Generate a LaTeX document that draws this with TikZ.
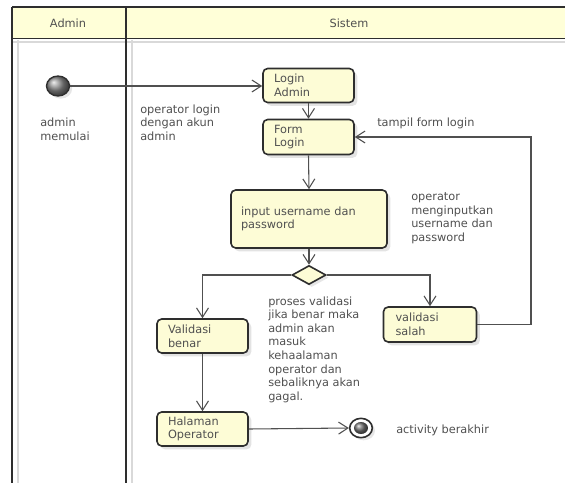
\documentclass[tikz,border=0pt]{standalone}
\usepackage{fontspec}
\setmainfont{DejaVu Sans}
\usetikzlibrary{shapes.geometric,arrows.meta,shadows,calc}
\definecolor{boxfill}{HTML}{FDFCD6}
\definecolor{hdrfill}{HTML}{FFFFD8}
\definecolor{txt}{HTML}{505050}
\definecolor{ln}{HTML}{505050}
\definecolor{frm}{HTML}{2E2E2E}
\tikzset{
  lbl/.style={font=\fontsize{8.5pt}{10.2pt}\selectfont, text=txt, align=left, inner sep=0pt, anchor=west},
  actbox/.style={draw=frm, line width=1.2pt, rounded corners=3.5pt, fill=boxfill,
     drop shadow={shadow xshift=2.5pt, shadow yshift=-2.5pt, opacity=0.22},
     font=\fontsize{8.5pt}{10.2pt}\selectfont, text=txt, align=left,
     inner ysep=0pt},
  conn/.style={draw=ln, line width=0.8pt, -{Straight Barb[length=7pt,width=9pt,line width=0.8pt]}},
  frameline/.style={draw=frm, line width=1.4pt},
  shadowline/.style={draw=black!15, line width=0.8pt},
}
\begin{document}
\begin{tikzpicture}[x=0.75pt,y=-0.75pt]
\useasboundingbox (0,0) rectangle (565,483);
% swimlane frame
\fill[hdrfill] (12,7) rectangle (565,38);
\draw[shadowline] (18,40) -- (18,483);
\draw[shadowline] (132,40) -- (132,483);
\draw[shadowline] (12,42) -- (565,42);
\draw[draw=frm, line width=0.8pt] (12,7) -- (565,7);
\draw[frameline] (12,38.5) -- (565,38.5);
\draw[frameline] (12,7) -- (12,483);
\draw[frameline] (126,7) -- (126,483);
\node[font=\fontsize{8.5pt}{10pt}\selectfont, text=txt] (hadmin) at (68,23) {Admin};
\node[font=\fontsize{8.5pt}{10pt}\selectfont, text=txt] (hsistem) at (349,23) {Sistem};

% nodes
\node[ellipse, draw=frm, line width=1pt, minimum width=17.25pt, minimum height=15pt, inner sep=0pt,
      shading=ball, ball color=black!45,
      drop shadow={shadow xshift=2pt, shadow yshift=-2pt, opacity=0.2}] (start) at (58,86) {};
\node[actbox, text width=51.75pt, inner xsep=8.25pt, minimum height=25.5pt] (loginadmin) at (308.5,85.5) {Login\\Admin};
\node[actbox, text width=51.75pt, inner xsep=8.25pt, minimum height=26.25pt] (formlogin) at (308.5,137) {Form\\Login};
\node[actbox, text width=102pt, inner xsep=7.5pt, minimum height=43.5pt] (input) at (309,219) {input username dan\\password};
\node[diamond, draw=frm, line width=1.2pt, fill=boxfill, aspect=1.8, minimum width=25.5pt, minimum height=14.25pt, inner sep=0pt,
      drop shadow={shadow xshift=2pt, shadow yshift=-2pt, opacity=0.2}] (dec) at (309,275) {};
\node[actbox, text width=51.75pt, inner xsep=8.25pt, minimum height=25.5pt] (benar) at (202.5,336) {Validasi\\benar};
\node[actbox, text width=51.75pt, inner xsep=9pt, minimum height=26.25pt] (salah) at (430,324.5) {validasi\\salah};
\node[actbox, text width=51.75pt, inner xsep=8.25pt, minimum height=25.5pt] (halaman) at (202.5,429) {Halaman\\Operator};
\node[ellipse, draw=frm, line width=1.2pt, fill=white, minimum width=17pt, minimum height=14.5pt, inner sep=0pt,
      drop shadow={shadow xshift=2pt, shadow yshift=-2pt, opacity=0.2}] (end) at (361,428) {};
\node[ellipse, minimum width=10.5pt, minimum height=9pt, inner sep=0pt, shading=ball, ball color=black!55] (endin) at (end.center) {};
\coordinate (fbx) at (531,137);

% connectors
\draw[conn] (start.east) -- (start.east -| loginadmin.west);
\draw[conn] (loginadmin.south) -- (formlogin.north);
\draw[conn] (formlogin.south) -- (input.north);
\draw[conn] (input.south) -- (dec.north);
\draw[conn] (dec.west) -| (benar.north);
\draw[conn] (dec.east) -| (salah.north);
\draw[conn] (salah.east) -- (salah.east -| fbx) -- (fbx) -- (formlogin.east);
\draw[conn] (benar.south) -- (halaman.north);
\draw[conn] (halaman.east) -- (end.west);

% labels
\node[lbl] (l1) at (40,129.5) {admin\\memulai};
\node[lbl] (l2) at (140,122.5) {operator login\\dengan akun\\admin};
\node[lbl] (l3) at (377,123) {tampil form login};
\node[lbl] (l4) at (411,218) {operator\\menginputkan\\username dan\\password};
\node[lbl] (l5) at (268,349.5) {proses validasi\\jika benar maka\\admin akan\\masuk\\kehaalaman\\operator dan\\sebaliknya akan\\gagal.};
\node[lbl] (l6) at (396,430) {activity berakhir};
\end{tikzpicture}
\end{document}
